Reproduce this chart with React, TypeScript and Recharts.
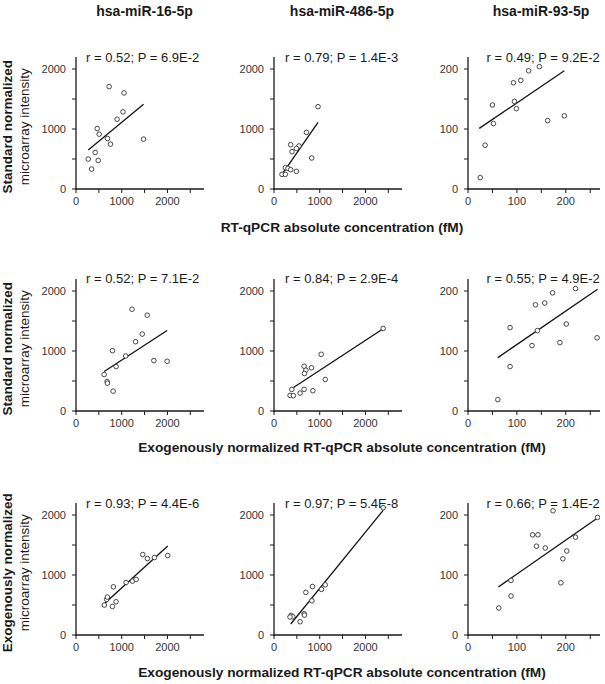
import { ReferenceArea, ReferenceLine, Scatter, ScatterChart, XAxis, YAxis } from "recharts";

// column / row labels
const mirNames = ["hsa-miR-16-5p", "hsa-miR-486-5p", "hsa-miR-93-5p"];
const rowYTitle = ["Standard normalized", "Standard normalized", "Exogenously normalized"];
const rowXTitle = [
  "RT-qPCR absolute concentration (fM)",
  "Exogenously normalized RT-qPCR absolute concentration (fM)",
  "Exogenously normalized RT-qPCR absolute concentration (fM)",
];
const stats = [
  ["r = 0.52; P = 6.9E-2", "r = 0.79; P = 1.4E-3", "r = 0.49; P = 9.2E-2"],
  ["r = 0.52; P = 7.1E-2", "r = 0.84; P = 2.9E-4", "r = 0.55; P = 4.9E-2"],
  ["r = 0.93; P = 4.4E-6", "r = 0.97; P = 5.4E-8", "r = 0.66; P = 1.4E-2"],
];

// ticks
const bigTicksX = [0, 500, 1000, 1500, 2000, 2500];
const bigTicksY = [0, 500, 1000, 1500, 2000];
const smallTicksX = [0, 50, 100, 150, 200, 250];
const smallTicksY = [0, 50, 100, 150, 200];

// row 1: standard RT-qPCR vs standard array
const s16 = [[268, 499], [341, 332], [420, 609], [464, 1008], [486, 476], [507, 914], [688, 842], [725, 1706], [754, 748], [899, 1163], [1029, 1285], [1051, 1601], [1478, 831]];
const s16Fit = [[268, 648], [1478, 1413]];
const s486 = [[963, 1372], [709, 943], [365, 738], [547, 717], [490, 677], [394, 622], [825, 517], [249, 355], [306, 344], [365, 322], [490, 294], [175, 244], [249, 244]];
const s486Fit = [[190, 262], [963, 1110]];
const s93 = [[25, 19], [35, 73], [50, 140], [52, 109], [93, 177], [95, 146], [99, 134], [108, 181], [124, 197], [146, 204], [163, 114], [197, 122]];
const s93Fit = [[23, 101], [197, 197]];

// row 2: exogenous RT-qPCR vs standard array
const e16 = [[616, 608], [681, 492], [688, 464], [797, 1006], [812, 331], [877, 740], [1087, 917], [1225, 1696], [1304, 1155], [1449, 1282], [1558, 1597], [1703, 840], [1993, 829]];
const e16Fit = [[616, 657], [1993, 1343]];
const e486 = [[1033, 945], [659, 746], [697, 680], [820, 720], [666, 625], [1121, 526], [389, 360], [352, 260], [424, 255], [571, 299], [659, 360], [851, 338], [2388, 1376]];
const e486Fit = [[352, 354], [2388, 1370]];
const e93 = [[61, 19], [86, 74], [86, 139], [131, 109], [138, 177], [142, 134], [157, 180], [173, 197], [188, 114], [201, 145], [220, 204], [264, 122]];
const e93Fit = [[61, 89], [265, 203]];

// row 3: exogenous RT-qPCR vs exogenous array
const x16 = [[620, 499], [671, 593], [686, 632], [796, 476], [818, 803], [876, 554], [1095, 875], [1234, 898], [1314, 925], [1460, 1341], [1562, 1274], [1715, 1291], [2007, 1324]];
const x16Fit = [[613, 515], [2007, 1485]];
const x486 = [[842, 809], [697, 710], [1121, 836], [1040, 760], [829, 570], [374, 327], [411, 304], [350, 300], [659, 354], [666, 332], [571, 221], [2388, 2122]];
const x486Fit = [[366, 183], [2388, 2078]];
const x93 = [[63, 45], [88, 65], [88, 91], [132, 167], [140, 148], [143, 167], [158, 145], [174, 207], [190, 87], [194, 127], [202, 140], [220, 163], [265, 196]];
const x93Fit = [[62, 80], [265, 195]];

const grid = [
  [s16, s486, s93],
  [e16, e486, e93],
  [x16, x486, x93],
];
const fits = [
  [s16Fit, s486Fit, s93Fit],
  [e16Fit, e486Fit, e93Fit],
  [x16Fit, x486Fit, x93Fit],
];

const colLeft = [76, 274, 467.5];
const plotW = [128, 128, 132];
const rowTop = [57, 278.5, 503];
const plotH = 132;
const yAxW = 44;
const topM = 8;
const tickLen = 4;
const xGap = 4;
const yGap = 6;
const axisPx = 1.3;
const font = "Arial, 'Liberation Sans', sans-serif";
const ink = "#1a1a1a";

const toXY = (pts: number[][]) => pts.map(([x, y]) => ({ x, y }));

const Dot = (props: any) => (
  <circle cx={props.cx} cy={props.cy} r={2.3} fill="#fff" stroke="#333" strokeWidth={0.9} />
);

// html text placed by its baseline
const Label = ({ text, cx, base, size, bold, left }: any) => {
  const top = base - 0.8465 * size;
  const style: any = {
    position: "absolute",
    top,
    height: size,
    lineHeight: `${size}px`,
    fontSize: size,
    fontFamily: font,
    fontWeight: bold ? "bold" : "normal",
    color: ink,
    whiteSpace: "nowrap",
  };
  if (left !== undefined) return <div style={{ ...style, left }}>{text}</div>;
  return <div style={{ ...style, left: cx - 300, width: 600, textAlign: "center" }}>{text}</div>;
};

const VLabel = ({ text, baseX, cy, size, bold }: any) => {
  const cx = baseX - 0.3465 * size;
  return (
    <div
      style={{
        position: "absolute",
        left: cx - 100,
        top: cy - size / 2,
        width: 200,
        height: size,
        lineHeight: `${size}px`,
        fontSize: size,
        fontFamily: font,
        fontWeight: bold ? "bold" : "normal",
        color: ink,
        textAlign: "center",
        whiteSpace: "nowrap",
        transform: "rotate(-90deg)",
      }}
    >
      {text}
    </div>
  );
};

const Panel = ({ row, col }: { row: number; col: number }) => {
  const small = col === 2;
  const step = small ? 100 : 1000;
  const xMax = small ? 270 : 2800;
  const yMax = small ? 220 : 2200;
  // half an axis-line thickness, in data units
  const hx = ((axisPx / 2) * xMax) / plotW[col];
  const hy = ((axisPx / 2) * yMax) / plotH;
  // tick mark (as a thin rect) + label on every other tick
  const xTick = ({ x, y, payload }: any) => (
    <g>
      <rect x={x - 0.5} y={y - xGap - tickLen} width={1} height={tickLen} fill={ink} />
      {payload.value % step === 0 && (
        <text x={x} y={y} dy="0.71em" textAnchor="middle" fontSize={11} fontFamily={font} fill="#333">
          {payload.value}
        </text>
      )}
    </g>
  );
  const yTick = ({ x, y, payload }: any) => (
    <g>
      <rect x={x + yGap} y={y - 0.5} width={tickLen} height={1} fill={ink} />
      {payload.value % step === 0 && (
        <text x={x} y={y} dy="0.355em" textAnchor="end" fontSize={11} fontFamily={font} fill="#333">
          {payload.value}
        </text>
      )}
    </g>
  );
  const fit = fits[row][col];
  const w = yAxW + plotW[col] + 6;
  return (
    <div style={{ position: "absolute", left: colLeft[col] - yAxW, top: rowTop[row] - topM }}>
      <ScatterChart width={w} height={topM + plotH + 26} margin={{ top: topM, right: 6, bottom: 0, left: 0 }}>
        <XAxis
          type="number"
          dataKey="x"
          domain={[0, xMax]}
          ticks={small ? smallTicksX : bigTicksX}
          interval={0}
          tick={xTick}
          tickSize={tickLen}
          tickMargin={xGap}
          height={26}
          axisLine={false}
          tickLine={false}
          allowDataOverflow
        />
        <YAxis
          type="number"
          dataKey="y"
          domain={[0, yMax]}
          ticks={small ? smallTicksY : bigTicksY}
          interval={0}
          tick={yTick}
          tickSize={tickLen}
          tickMargin={yGap}
          width={yAxW}
          axisLine={false}
          tickLine={false}
          allowDataOverflow
        />
        <ReferenceArea x1={-hx} x2={xMax} y1={-hy} y2={hy} fill={ink} fillOpacity={1} ifOverflow="visible" />
        <ReferenceArea x1={-hx} x2={hx} y1={-hy} y2={yMax} fill={ink} fillOpacity={1} ifOverflow="visible" />
        <ReferenceLine
          segment={[{ x: fit[0][0], y: fit[0][1] }, { x: fit[1][0], y: fit[1][1] }]}
          stroke="#111"
          strokeWidth={1.3}
        />
        <Scatter data={toXY(grid[row][col])} shape={Dot} isAnimationActive={false} />
      </ScatterChart>
    </div>
  );
};

export default function App() {
  const titleCx = [144.5, 342, 541];
  const statX = [86, 285, 486.5];
  const rowMid = [127, 349, 573];
  const xTitleY = [233, 453, 678];
  return (
    <div style={{ position: "absolute", left: 0, top: 0, width: 605, height: 684, background: "#fff", overflow: "hidden" }}>
      {mirNames.map((t, i) => (
        <Label key={t} text={t} cx={titleCx[i]} base={16} size={14} bold />
      ))}
      {rowXTitle.map((t, i) => (
        <Label key={`xt${i}`} text={t} cx={342} base={xTitleY[i]} size={13.7} bold />
      ))}
      {rowYTitle.map((t, i) => (
        <div key={`yt${i}`}>
          <VLabel text={t} baseX={13} cy={rowMid[i]} size={13.5} bold />
          <VLabel text="microarray intensity" baseX={29.5} cy={rowMid[i]} size={13.5} />
        </div>
      ))}
      {stats.map((row, r) =>
        row.map((s, c) => <Label key={s} text={s} left={statX[c]} base={rowTop[r] + 5} size={13} />)
      )}
      {[0, 1, 2].map((r) => [0, 1, 2].map((c) => <Panel key={`${r}-${c}`} row={r} col={c} />))}
    </div>
  );
}
